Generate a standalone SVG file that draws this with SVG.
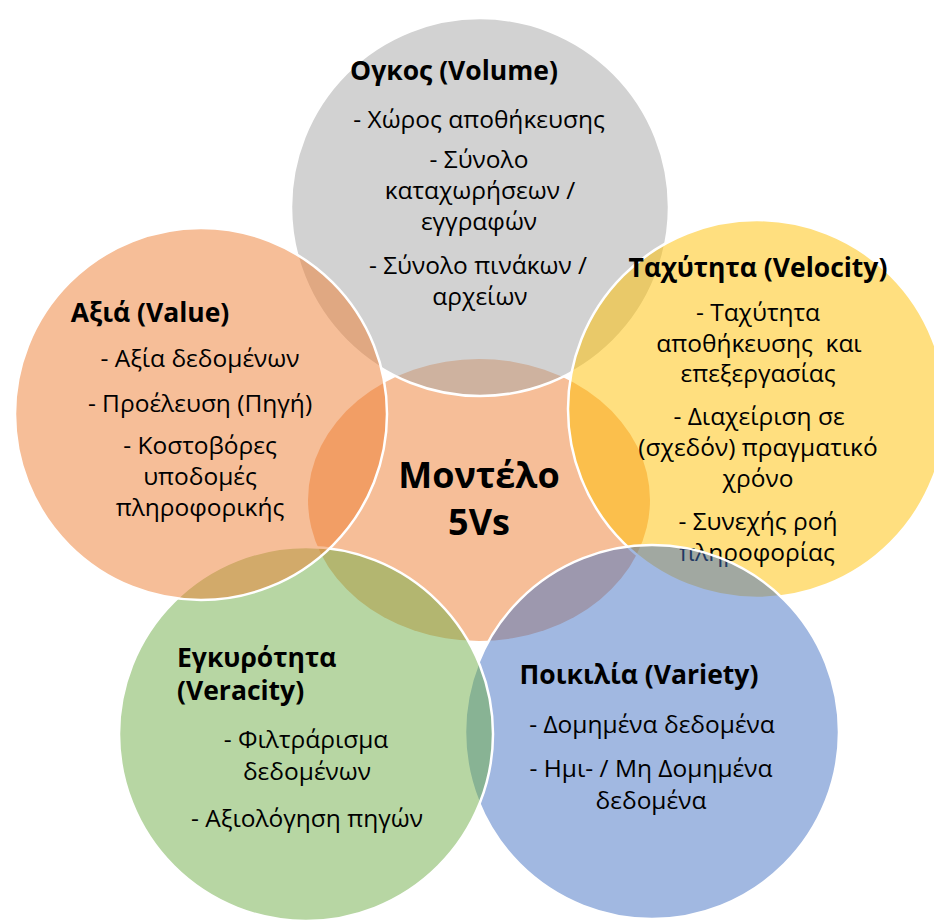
<svg xmlns="http://www.w3.org/2000/svg" width="934" height="923" viewBox="0 0 934 923">
<style>
.c{fill-opacity:0.5;stroke:#fff;stroke-width:2.5}
.t{font-family:"Open Sans","Noto Sans","DejaVu Sans",sans-serif;font-size:24.5px;fill:#000;text-anchor:middle}
.h{font-family:"Open Sans","Noto Sans","DejaVu Sans",sans-serif;font-size:26.5px;font-weight:bold;fill:#000;text-anchor:middle}
.m{font-family:"Open Sans","Noto Sans","DejaVu Sans",sans-serif;font-size:36px;font-weight:bold;fill:#000;text-anchor:middle}
</style>
<rect width="934" height="923" fill="#fff"/>
<g id="center">
<ellipse cx="479" cy="500" rx="171" ry="141" fill="#ED7D31" fill-opacity="0.5"/>
<text class="m" x="479" y="488">Μοντέλο</text>
<text class="m" x="479" y="535">5Vs</text>
</g>
<g id="volume">
<circle class="c" cx="480" cy="207" r="189" fill="#A5A5A5"/>
<text class="h" x="454" y="80">Ογκος (Volume)</text>
<text class="t" x="479" y="128">- Χώρος αποθήκευσης</text>
<text class="t" x="479" y="168">- Σύνολο</text>
<text class="t" x="480" y="199">καταχωρήσεων /</text>
<text class="t" x="479" y="230">εγγραφών</text>
<text class="t" x="478" y="274">- Σύνολο πινάκων /</text>
<text class="t" x="480" y="305">αρχείων</text>
</g>
<g id="velocity">
<circle class="c" cx="757" cy="409" r="189" fill="#FFC000"/>
<text class="h" x="758" y="277">Ταχύτητα (Velocity)</text>
<text class="t" x="758" y="321">- Ταχύτητα</text>
<text class="t" x="759" y="352" style="white-space:pre">αποθήκευσης  και</text>
<text class="t" x="758" y="382">επεξεργασίας</text>
<text class="t" x="759" y="425">- Διαχείριση σε</text>
<text class="t" x="758" y="456">(σχεδόν) πραγματικό</text>
<text class="t" x="758" y="487">χρόνο</text>
<text class="t" x="758" y="530">- Συνεχής ροή</text>
<text class="t" x="757" y="561">πληροφορίας</text>
</g>
<g id="variety">
<circle class="c" cx="652" cy="732" r="187" fill="#4472C4"/>
<text class="h" x="639" y="684">Ποικιλία (Variety)</text>
<text class="t" x="652" y="733">- Δομημένα δεδομένα</text>
<text class="t" x="651" y="777">- Ημι- / Μη Δομημένα</text>
<text class="t" x="651" y="809">δεδομένα</text>
</g>
<g id="veracity">
<circle class="c" cx="306" cy="734" r="187" fill="#70AD47"/>
<text class="h" x="177" y="667" style="text-anchor:start">Εγκυρότητα</text>
<text class="h" x="177" y="700" style="text-anchor:start">(Veracity)</text>
<text class="t" x="306" y="748">- Φιλτράρισμα</text>
<text class="t" x="307" y="780">δεδομένων</text>
<text class="t" x="307" y="827">- Αξιολόγηση πηγών</text>
</g>
<g id="value">
<circle class="c" cx="201" cy="414" r="186" fill="#ED7D31"/>
<text class="h" x="150" y="322">Αξιά (Value)</text>
<text class="t" x="200" y="367">- Αξία δεδομένων</text>
<text class="t" x="200" y="412">- Προέλευση (Πηγή)</text>
<text class="t" x="200" y="454">- Κοστοβόρες</text>
<text class="t" x="200" y="485">υποδομές</text>
<text class="t" x="200" y="516">πληροφορικής</text>
</g>
</svg>
